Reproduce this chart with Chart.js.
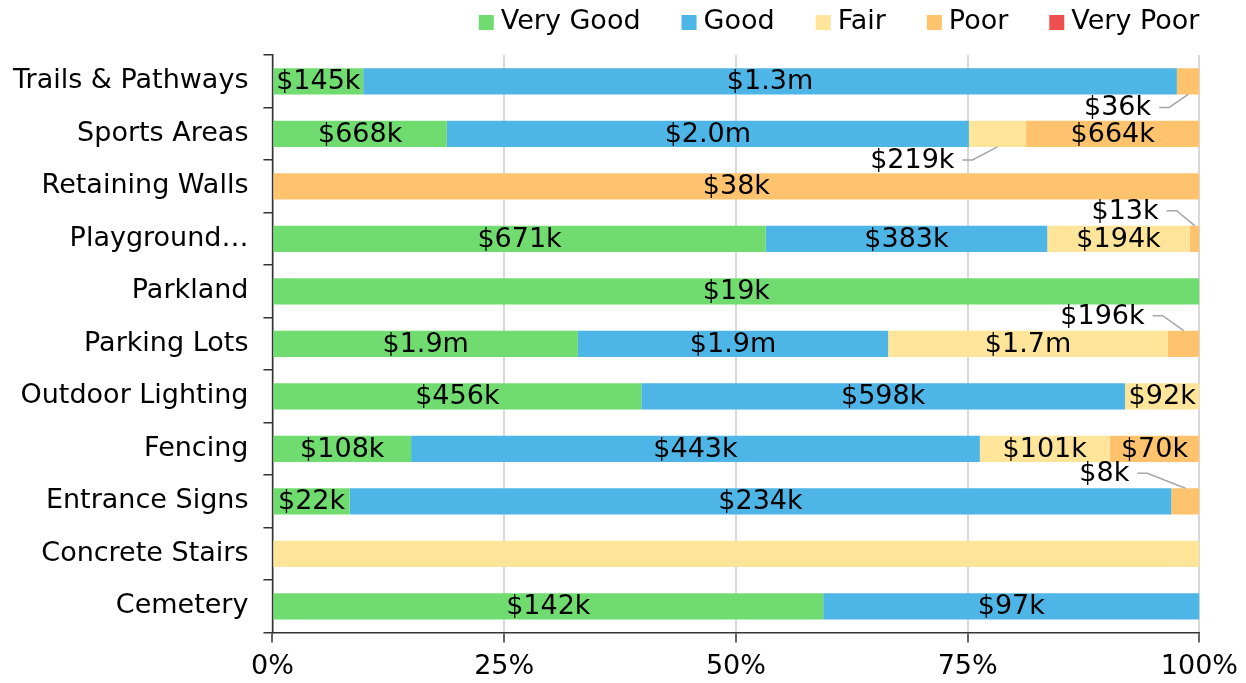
<!DOCTYPE html>
<html>
<head>
<meta charset="utf-8">
<script src="https://cdn.jsdelivr.net/npm/chart.js@4"></script>
<style>
  html, body { margin: 0; padding: 0; background: #fff; }
  #wrap { width: 1246px; height: 683px; }
</style>
</head>
<body>
<div id="wrap"><canvas id="conditionChart"></canvas></div>
<script>
// Asset categories (top to bottom)
const categories = [
  'Trails & Pathways',
  'Sports Areas',
  'Retaining Walls',
  'Playground Equipment',
  'Parkland',
  'Parking Lots',
  'Outdoor Lighting',
  'Fencing',
  'Entrance Signs',
  'Concrete Stairs',
  'Cemetery',
];

// Replacement value by condition, in $ thousands
const veryGood = [145, 668, 0, 671, 19, 1900, 456, 108, 22, 0, 142];
const good = [1300, 2000, 0, 383, 0, 1930, 598, 443, 234, 0, 97];
const fair = [0, 219, 0, 194, 0, 1740, 92, 101, 0, 0.4, 0];
const poor = [36, 664, 38, 13, 0, 196, 0, 70, 8, 0, 0];
const veryPoor = [0, 0, 0, 0, 0, 0, 0, 0, 0, 0, 0];

const xTickLabels = ['0%', '25%', '50%', '75%', '100%'];

const seriesNames = ['Very Good', 'Good', 'Fair', 'Poor', 'Very Poor'];
const seriesColors = ['#70dc70', '#4db6e6', '#ffe599', '#ffc36e', '#f04f4f'];
const series = [veryGood, good, fair, poor, veryPoor];

const FONT = 'DejaVu Sans, Verdana, sans-serif';
const FONT_SIZE = 27;

// labels that don't fit go outside with a leader line
const callouts = {
  '3-0': { side: 'below', dx: 19 },
  '2-1': { side: 'below', dx: 25 },
  '3-3': { side: 'above', dx: 18 },
  '3-5': { side: 'above', dx: 21 },
  '3-8': { side: 'above', dx: 38 },
};

// row totals for the 100% stacking
const totals = categories.map((c, i) => series.reduce((s, arr) => s + arr[i], 0));

function formatMoney(v) {
  if (v >= 1000) return '$' + (v / 1000).toFixed(1) + 'm';
  return '$' + Math.round(v) + 'k';
}

const datasets = series.map((arr, k) => ({
  label: seriesNames[k],
  data: arr.map((v, i) => (totals[i] ? (v / totals[i]) * 100 : 0)),
  raw: arr,
  backgroundColor: seriesColors[k],
  borderWidth: 0,
  barPercentage: 0.5,
  categoryPercentage: 1,
}));

// Draws the value labels in (or next to) each segment
const segmentLabels = {
  id: 'segmentLabels',
  afterDatasetsDraw(chart) {
    const ctx = chart.ctx;
    ctx.save();
    ctx.font = FONT_SIZE + 'px ' + FONT;
    ctx.fillStyle = '#000';
    ctx.textBaseline = 'middle';
    chart.data.datasets.forEach((ds, k) => {
      const meta = chart.getDatasetMeta(k);
      meta.data.forEach((bar, i) => {
        const v = ds.raw[i];
        if (!v || Math.round(v) === 0) return;
        const text = formatMoney(v);
        const left = Math.min(bar.x, bar.base);
        const right = Math.max(bar.x, bar.base);
        const w = right - left;
        const tw = ctx.measureText(text).width;
        const cx = (left + right) / 2;
        if (tw <= w + 2) {
          ctx.textAlign = 'center';
          ctx.fillText(text, cx, bar.y + 1);
          return;
        }
        const c = callouts[k + '-' + i];
        if (!c) return;
        const half = bar.height / 2;
        const edgeY = c.side === 'below' ? bar.y + half : bar.y - half;
        const elbowY = c.side === 'below' ? edgeY + 13 : edgeY - 15;
        const elbowX = cx - c.dx;
        ctx.strokeStyle = '#a6a6a6';
        ctx.lineWidth = 1.5;
        ctx.beginPath();
        ctx.moveTo(cx, edgeY);
        ctx.lineTo(elbowX, elbowY);
        ctx.lineTo(elbowX - 10, elbowY);
        ctx.stroke();
        ctx.textAlign = 'right';
        ctx.fillText(text, elbowX - 18, elbowY + 1);
      });
    });
    ctx.restore();
  },
};

// Legend drawn by hand to get the spacing of the original
const topLegend = {
  id: 'topLegend',
  afterDraw(chart) {
    const ctx = chart.ctx;
    const box = 15, gap = 7, itemGap = 41;
    ctx.save();
    ctx.font = FONT_SIZE + 'px ' + FONT;
    const widths = seriesNames.map(n => ctx.measureText(n).width);
    let total = widths.reduce((a, b) => a + b, 0) + seriesNames.length * (box + gap) + (seriesNames.length - 1) * itemGap;
    let x = chart.chartArea.right - total;
    const y = 22;
    ctx.textBaseline = 'middle';
    ctx.textAlign = 'left';
    seriesNames.forEach((n, k) => {
      ctx.fillStyle = seriesColors[k];
      ctx.fillRect(x, y - 7, box, box);
      ctx.fillStyle = '#000';
      ctx.fillText(n, x + box + gap, y);
      x += box + gap + widths[k] + itemGap;
    });
    ctx.restore();
  },
};

const ctx = document.getElementById('conditionChart').getContext('2d');
const conditionChart = new Chart(ctx, {
  type: 'bar',
  data: { labels: categories, datasets: datasets },
  plugins: [segmentLabels, topLegend],
  options: {
    indexAxis: 'y',
    responsive: true,
    maintainAspectRatio: false,
    animation: false,
    layout: { padding: { top: 55, left: -2, right: 8, bottom: -8 } },
    scales: {
      x: {
        stacked: true,
        min: 0,
        max: 100,
        grid: {
          color: '#d9d9d9',
          lineWidth: 2,
          tickColor: '#333',
          tickLength: 10,
          tickWidth: 1.5,
        },
        border: { display: true, color: '#333', width: 1.5 },
        ticks: {
          stepSize: 25,
          color: '#000',
          padding: 8,
          maxRotation: 0,
          font: { family: FONT, size: FONT_SIZE },
          callback: function (value) {
            return xTickLabels[value / 25];
          },
        },
      },
      y: {
        stacked: true,
        grid: {
          offset: true,
          drawOnChartArea: false,
          color: '#333',
          tickLength: 9,
          lineWidth: 1.5,
        },
        border: { display: true, color: '#333', width: 1.5 },
        ticks: {
          color: '#000',
          padding: 15,
          font: { family: FONT, size: FONT_SIZE },
          callback: function (value) {
            const name = categories[value];
            return name.length > 17 ? name.slice(0, 10) + '\u2026' : name;
          },
        },
      },
    },
    plugins: {
      legend: { display: false },
      tooltip: { enabled: false },
    },
  },
});
</script>
</body>
</html>
